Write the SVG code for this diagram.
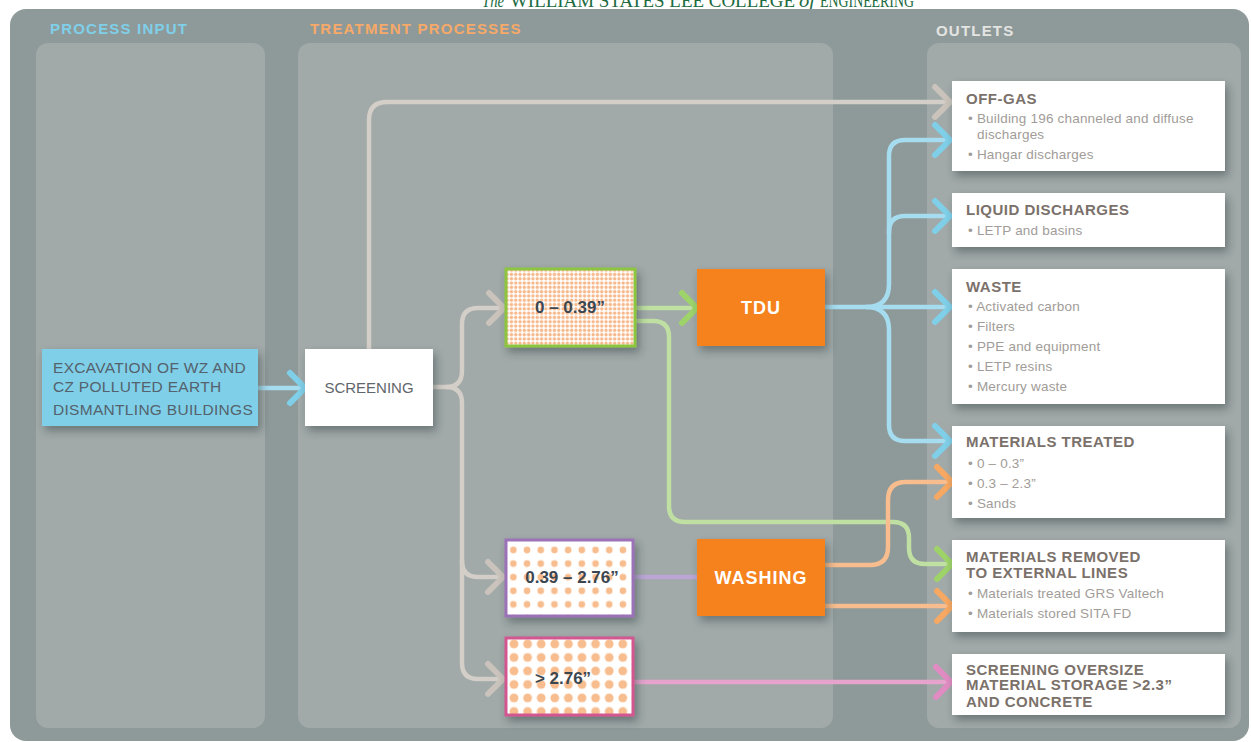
<svg xmlns="http://www.w3.org/2000/svg" width="1251" height="742" viewBox="0 0 1251 742">
<style>
.hdr{font-family:"Liberation Sans",Arial,sans-serif;font-weight:bold;font-size:15px;letter-spacing:1.2px}
.panel{fill:#a1a9a9}
.out{fill:#ffffff;filter:url(#sh)}
.ttl{font-family:"Liberation Sans",Arial,sans-serif;font-weight:bold;font-size:15px;letter-spacing:0.5px;fill:#7b716b}
.bul{font-family:"Liberation Sans",Arial,sans-serif;font-size:13.5px;letter-spacing:0.2px;fill:#a19c98}
.lbl{font-family:"Liberation Sans",Arial,sans-serif;font-weight:bold;font-size:17px;fill:#3c4650;text-anchor:middle}
.proc{fill:#f5821f;filter:url(#sh)}
.ptxt{font-family:"Liberation Sans",Arial,sans-serif;font-weight:bold;font-size:18px;fill:#ffffff;text-anchor:middle;letter-spacing:1px}
.in{font-family:"Liberation Sans",Arial,sans-serif;font-size:15.5px;letter-spacing:0.3px;fill:#55626c}
.top{font-family:"Liberation Serif","Times New Roman",serif;font-size:18px;fill:#1d6b3f}
.c{fill:none;stroke-width:4.5;stroke-linecap:butt}
.gray{stroke:#d3cec7}
.blue{stroke:#a6dcef}
.green{stroke:#bfe0a2}
.orange{stroke:#f8bd8e}
.purple{stroke:#bba6d6}
.pink{stroke:#e6a4cd}
</style>
<defs>
<filter id="sh" x="-10%" y="-10%" width="130%" height="140%">
<feDropShadow dx="3" dy="5" stdDeviation="4" flood-color="#2f3b3b" flood-opacity="0.45"/>
</filter>
<pattern id="fine" patternUnits="userSpaceOnUse" x="505" y="268" width="4.3" height="4.3">
<rect width="4.3" height="4.3" fill="#ffffff"/>
<circle cx="2.15" cy="2.15" r="1.7" fill="#f7b98c"/>
</pattern>
<pattern id="med" patternUnits="userSpaceOnUse" x="506.5" y="543.2" width="13.7" height="13.6">
<rect width="13.7" height="13.6" fill="#ffffff"/>
<circle cx="6.85" cy="6.8" r="3.3" fill="#f8bd8e"/>
</pattern>
<pattern id="big" patternUnits="userSpaceOnUse" x="507.2" y="637.2" width="13.6" height="13.5">
<rect width="13.6" height="13.5" fill="#ffffff"/>
<circle cx="6.8" cy="6.75" r="4.4" fill="#f8bd8e"/>
</pattern>
<marker id="aGray" markerUnits="userSpaceOnUse" viewBox="-22 -22 28 44" refX="0" refY="0" markerWidth="28" markerHeight="44" orient="auto" overflow="visible">
<path d="M-15,-15 L0,0 L-15,15" fill="none" stroke="#c9c3bb" stroke-width="6" stroke-linecap="round" stroke-linejoin="round"/>
</marker>
<marker id="aBlue" markerUnits="userSpaceOnUse" viewBox="-22 -22 28 44" refX="0" refY="0" markerWidth="28" markerHeight="44" orient="auto" overflow="visible">
<path d="M-15,-15 L0,0 L-15,15" fill="none" stroke="#7fcfe8" stroke-width="6" stroke-linecap="round" stroke-linejoin="round"/>
</marker>
<marker id="aGreen" markerUnits="userSpaceOnUse" viewBox="-22 -22 28 44" refX="0" refY="0" markerWidth="28" markerHeight="44" orient="auto" overflow="visible">
<path d="M-15,-15 L0,0 L-15,15" fill="none" stroke="#9ed36a" stroke-width="6" stroke-linecap="round" stroke-linejoin="round"/>
</marker>
<marker id="aOrange" markerUnits="userSpaceOnUse" viewBox="-22 -22 28 44" refX="0" refY="0" markerWidth="28" markerHeight="44" orient="auto" overflow="visible">
<path d="M-15,-15 L0,0 L-15,15" fill="none" stroke="#f7a862" stroke-width="6" stroke-linecap="round" stroke-linejoin="round"/>
</marker>
<marker id="aPink" markerUnits="userSpaceOnUse" viewBox="-22 -22 28 44" refX="0" refY="0" markerWidth="28" markerHeight="44" orient="auto" overflow="visible">
<path d="M-15,-15 L0,0 L-15,15" fill="none" stroke="#e08cc2" stroke-width="6" stroke-linecap="round" stroke-linejoin="round"/>
</marker>
</defs>

<rect width="1251" height="742" fill="#ffffff"/>
<g id="masthead">
<text class="top" x="482" y="7" font-style="italic" textLength="22" lengthAdjust="spacingAndGlyphs">The</text>
<text class="top" x="510" y="7" textLength="285" lengthAdjust="spacingAndGlyphs">WILLIAM STATES LEE COLLEGE</text>
<text class="top" x="799" y="7" font-style="italic" textLength="16" lengthAdjust="spacingAndGlyphs">of</text>
<text class="top" x="820" y="7" textLength="94" lengthAdjust="spacingAndGlyphs">ENGINEERING</text>
</g>

<g id="background">
<rect x="10" y="9" width="1239" height="732" rx="16" fill="#8e9a99"/>
<rect class="panel" x="36" y="43" width="229" height="685" rx="12"/>
<rect class="panel" x="298" y="43" width="535" height="685" rx="12"/>
<rect class="panel" x="927" y="43" width="314" height="685" rx="12"/>
<text class="hdr" x="50" y="34" fill="#7fcfe8">PROCESS INPUT</text>
<text class="hdr" x="310" y="34" fill="#f6a968">TREATMENT PROCESSES</text>
<text class="hdr" x="936" y="36" fill="#e4e4e2">OUTLETS</text>
</g>

<g id="connectors">
<path class="c blue" d="M258,388 H305" marker-end="url(#aBlue)"/>
<path class="c gray" d="M369,349 V120 Q369,102 387,102 H950" marker-end="url(#aGray)"/>
<path class="c gray" d="M432,387 H446 Q462,387 462,371 V324 Q462,308 478,308 H504" marker-end="url(#aGray)"/>
<path class="c gray" d="M446,387 Q462,387 462,403 V561 Q462,577 478,577 H503" marker-end="url(#aGray)"/>
<path class="c gray" d="M462,560 V663 Q462,679 478,679 H503" marker-end="url(#aGray)"/>
<path class="c green" d="M636,308 H697" marker-end="url(#aGreen)"/>
<path class="c green" d="M636,321 H653 Q669,321 669,337 V506 Q669,522 685,522 H893 Q909,522 909,538 V548 Q909,564 925,564 H952" marker-end="url(#aGreen)"/>
<path class="c blue" d="M825,307 H950" marker-end="url(#aBlue)"/>
<path class="c blue" d="M866,307 Q889,307 889,284 V232 Q889,216 905,216 H950" marker-end="url(#aBlue)"/>
<path class="c blue" d="M889,234 V156 Q889,140 905,140 H950" marker-end="url(#aBlue)"/>
<path class="c blue" d="M866,307 Q889,307 889,330 V425 Q889,441 905,441 H950" marker-end="url(#aBlue)"/>
<path class="c purple" d="M633,577 H697"/>
<path class="c orange" d="M825,565 H870 Q888,565 888,547 V500 Q888,482 906,482 H952" marker-end="url(#aOrange)"/>
<path class="c orange" d="M825,606 H952" marker-end="url(#aOrange)"/>
<path class="c pink" d="M633,682 H951" marker-end="url(#aPink)"/>
</g>

<g id="excavation">
<rect x="42" y="349" width="216" height="77" fill="#7fcfe8" style="filter:url(#sh)"/>
<text class="in" x="53" y="373">EXCAVATION OF WZ AND</text>
<text class="in" x="53" y="392">CZ POLLUTED EARTH</text>
<text class="in" x="53" y="415">DISMANTLING BUILDINGS</text>
</g>

<g id="screening">
<rect x="305" y="349" width="128" height="77" fill="#ffffff" style="filter:url(#sh)"/>
<text x="369" y="393" font-family="'Liberation Sans',Arial,sans-serif" font-size="15" fill="#5f666b" text-anchor="middle">SCREENING</text>
</g>

<g id="fraction-fine">
<rect x="506" y="269" width="129" height="77" fill="url(#fine)" stroke="#8cc63f" stroke-width="3" style="filter:url(#sh)"/>
<text class="lbl" x="570" y="313">0 – 0.39”</text>
</g>

<g id="tdu">
<rect class="proc" x="697" y="269" width="128" height="77"/>
<text class="ptxt" x="761" y="314">TDU</text>
</g>

<g id="fraction-medium">
<rect x="506" y="540" width="127" height="76" fill="url(#med)" stroke="#9b72b8" stroke-width="3" style="filter:url(#sh)"/>
<text class="lbl" x="572" y="583">0.39 – 2.76”</text>
</g>

<g id="washing">
<rect class="proc" x="697" y="539" width="128" height="77"/>
<text class="ptxt" x="761" y="584">WASHING</text>
</g>

<g id="fraction-large">
<rect x="506" y="638" width="127" height="77" fill="url(#big)" stroke="#d2578f" stroke-width="3" style="filter:url(#sh)"/>
<text class="lbl" x="563" y="684">&gt; 2.76”</text>
</g>

<g id="off-gas">
<rect class="out" x="952" y="81" width="273" height="90"/>
<text class="ttl" x="966" y="104">OFF-GAS</text>
<text class="bul" x="968" y="123">• Building 196 channeled and diffuse</text>
<text class="bul" x="977" y="139">discharges</text>
<text class="bul" x="968" y="159">• Hangar discharges</text>
</g>

<g id="liquid-discharges">
<rect class="out" x="952" y="193" width="273" height="54"/>
<text class="ttl" x="966" y="215">LIQUID DISCHARGES</text>
<text class="bul" x="968" y="235">• LETP and basins</text>
</g>

<g id="waste">
<rect class="out" x="952" y="269" width="273" height="135"/>
<text class="ttl" x="966" y="292">WASTE</text>
<text class="bul" x="968" y="311">•  Activated carbon</text>
<text class="bul" x="968" y="331">•  Filters</text>
<text class="bul" x="968" y="351">•  PPE and equipment</text>
<text class="bul" x="968" y="371">•  LETP resins</text>
<text class="bul" x="968" y="391">•  Mercury waste</text>
</g>

<g id="materials-treated">
<rect class="out" x="952" y="426" width="273" height="92"/>
<text class="ttl" x="966" y="447">MATERIALS TREATED</text>
<text class="bul" x="968" y="468">•  0 – 0.3”</text>
<text class="bul" x="968" y="488">•  0.3 – 2.3”</text>
<text class="bul" x="968" y="508">•  Sands</text>
</g>

<g id="materials-removed">
<rect class="out" x="952" y="540" width="273" height="92"/>
<text class="ttl" x="966" y="562">MATERIALS REMOVED</text>
<text class="ttl" x="966" y="578">TO EXTERNAL LINES</text>
<text class="bul" x="968" y="598">•  Materials treated GRS Valtech</text>
<text class="bul" x="968" y="618">•  Materials stored SITA FD</text>
</g>

<g id="screening-oversize">
<rect class="out" x="952" y="654" width="273" height="61"/>
<text class="ttl" x="966" y="675">SCREENING OVERSIZE</text>
<text class="ttl" x="966" y="690">MATERIAL STORAGE &gt;2.3”</text>
<text class="ttl" x="966" y="707">AND CONCRETE</text>
</g>
</svg>
